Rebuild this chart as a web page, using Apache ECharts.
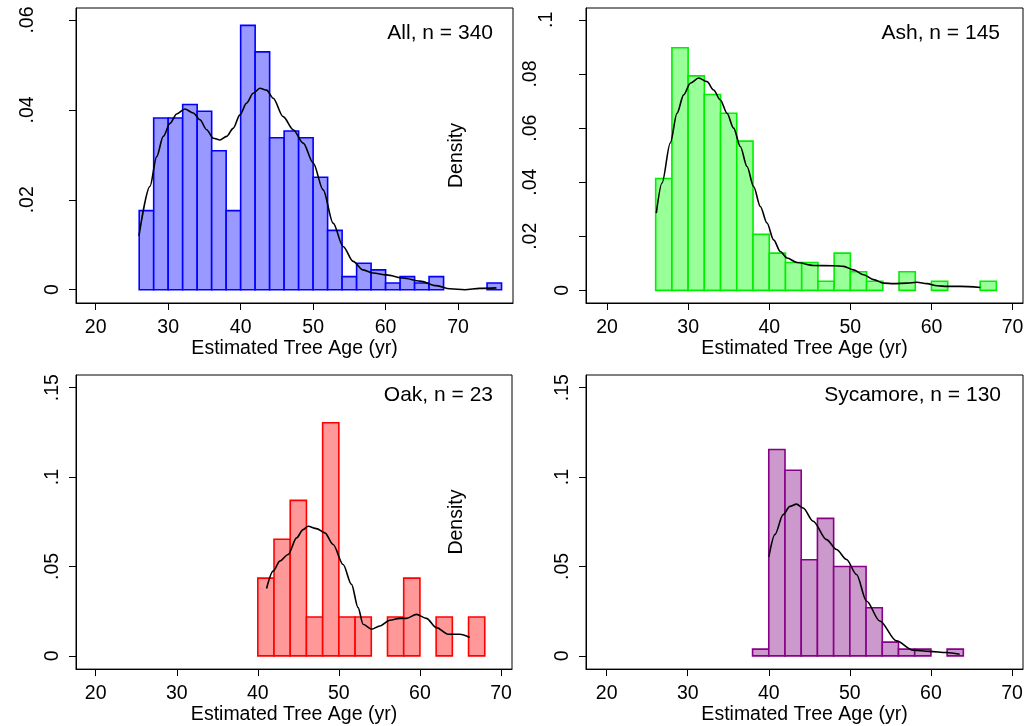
<!DOCTYPE html>
<html><head><meta charset="utf-8">
<script src="https://cdn.jsdelivr.net/npm/echarts@6/dist/echarts.min.js"></script>
<style>html,body{margin:0;padding:0;background:#fff}#c{width:1027px;height:726px}</style>
</head><body><div id="c"></div>
<script>
// ---------- data ----------
const xTicks = [20, 30, 40, 50, 60, 70];
const xAxisTitle = 'Estimated Tree Age (yr)';
const yAxisTitle = 'Density';
const BIN_W = 2;
const panelTitles = ['All, n = 340', 'Ash, n = 145', 'Oak, n = 23', 'Sycamore, n = 130'];

// All species
const allEdges = [26, 28, 30, 32, 34, 36, 38, 40, 42, 44, 46, 48, 50, 52, 54, 56, 58, 60, 62, 64, 66, 68, 70, 72, 74];
const allDens  = [0.0176, 0.0382, 0.0382, 0.0412, 0.0397, 0.0309, 0.0176, 0.0588, 0.0529, 0.0338, 0.0353, 0.0338, 0.0250, 0.0132, 0.0029, 0.0059, 0.0044, 0.0015, 0.0029, 0.0015, 0.0029, 0, 0, 0, 0.0015];
const allKdeAge = [25.97, 27.49, 28.41, 29.32, 30.25, 31.17, 32.31, 33.46, 34.38, 35.31, 36.22, 37.14, 38.06, 38.97, 39.90, 40.82, 41.73, 42.66, 43.58, 44.49, 45.87, 47.25, 48.63, 50.01, 51.38, 52.76, 54.14, 55.52, 56.90, 58.28, 60.12, 62.42, 64.72, 67.02, 68.86, 70.92, 73.0, 75.3];
const allKdeVal = [0.0120, 0.0230, 0.0296, 0.0341, 0.0370, 0.0391, 0.0402, 0.0393, 0.0378, 0.0356, 0.0337, 0.0333, 0.0341, 0.0359, 0.0389, 0.0415, 0.0437, 0.0448, 0.0444, 0.0426, 0.0385, 0.0356, 0.0326, 0.0282, 0.0222, 0.0148, 0.0096, 0.0063, 0.0044, 0.0037, 0.0033, 0.0026, 0.0019, 0.0009, 0.0002, 0.0000, 0.0003, 0.0004];
const yTicksAll = [0, 0.02, 0.04, 0.06];
const yLabelsAll = ['0', '.02', '.04', '.06'];

// Ash
const ashEdges = [26, 28, 30, 32, 34, 36, 38, 40, 42, 44, 46, 48, 50, 52, 54, 56, 58, 60, 62, 64, 66];
const ashDens  = [0.0414, 0.0897, 0.0793, 0.0724, 0.0655, 0.0552, 0.0207, 0.0138, 0.0103, 0.0103, 0.0034, 0.0138, 0.0069, 0.0034, 0, 0.0069, 0, 0.0034, 0, 0, 0.0034];
const ashKdeAge = [26.08, 26.78, 27.80, 28.63, 29.45, 30.27, 31.30, 32.33, 33.14, 33.97, 34.79, 35.61, 36.43, 37.26, 38.07, 38.90, 39.72, 40.54, 41.36, 42.19, 43.42, 45.47, 47.93, 49.17, 50.40, 51.63, 52.87, 54.10, 55.33, 56.98, 58.21, 59.45, 60.68, 61.91, 63.55, 66.02];
const ashKdeVal = [0.0286, 0.0397, 0.0545, 0.0655, 0.0723, 0.0766, 0.0785, 0.0772, 0.0741, 0.0704, 0.0655, 0.0600, 0.0532, 0.0458, 0.0384, 0.0310, 0.0249, 0.0187, 0.0144, 0.0120, 0.0103, 0.0092, 0.0091, 0.0089, 0.0076, 0.0058, 0.0040, 0.0027, 0.0025, 0.0027, 0.0030, 0.0025, 0.0017, 0.0015, 0.0015, 0.0011];
const yTicksAsh = [0, 0.02, 0.04, 0.06, 0.08, 0.1];
const yLabelsAsh = ['0', '.02', '.04', '.06', '.08', '.1'];

// Oak
const oakEdges = [40, 42, 44, 46, 48, 50, 52, 54, 56, 58, 60, 62, 64, 66];
const oakDens  = [0.0435, 0.0652, 0.0870, 0.0217, 0.1304, 0.0217, 0.0217, 0, 0.0217, 0.0435, 0, 0.0217, 0, 0.0217];
const oakKdeAge = [41.08, 41.89, 42.72, 43.74, 44.78, 45.59, 46.21, 47.24, 48.27, 49.29, 50.52, 51.56, 52.37, 52.99, 54.02, 55.05, 56.28, 57.51, 58.34, 59.57, 60.80, 62.04, 63.47, 64.91, 66.14];
const oakKdeVal = [0.0377, 0.0474, 0.0530, 0.0567, 0.0660, 0.0706, 0.0725, 0.0712, 0.0688, 0.0623, 0.0511, 0.0400, 0.0270, 0.0177, 0.0149, 0.0167, 0.0199, 0.0210, 0.0210, 0.0232, 0.0210, 0.0158, 0.0121, 0.0121, 0.0103];

// Sycamore
const sycEdges = [38, 40, 42, 44, 46, 48, 50, 52, 54, 56, 58, 60, 62];
const sycDens  = [0.0038, 0.1154, 0.1038, 0.0538, 0.0769, 0.0500, 0.0500, 0.0269, 0.0077, 0.0038, 0.0038, 0, 0.0038];
const sycKdeAge = [40.01, 40.75, 41.77, 42.60, 43.42, 44.24, 45.47, 47.12, 48.35, 49.59, 50.82, 52.05, 53.69, 55.75, 57.80, 59.85, 61.91, 63.55];
const sycKdeVal = [0.0554, 0.0678, 0.0790, 0.0836, 0.0849, 0.0827, 0.0753, 0.0650, 0.0595, 0.0539, 0.0455, 0.0307, 0.0195, 0.0084, 0.0032, 0.0025, 0.0019, 0.0009];
const yTicksLow = [0, 0.05, 0.1, 0.15];
const yLabelsLow = ['0', '.05', '.1', '.15'];

// ---------- styling / layout ----------
const FONT = "'Liberation Sans', Arial, sans-serif";
const panels = [
  { grid: {left: 76, top: 8, width: 437, height: 295}, x: [17.28, 77.58], y: [-0.00296, 0.06267],
    edges: allEdges, dens: allDens, kA: allKdeAge, kV: allKdeVal, yt: yTicksAll, yl: yLabelsAll, yOff: [0, 25, 25, 25],
    fill: '#9999ff', stroke: '#0000ff', yName: false, title: panelTitles[0], tRight: 534, tTop: 23 },
  { grid: {left: 586, top: 8, width: 437, height: 295}, x: [17.41, 71.28], y: [-0.00465, 0.1044],
    edges: ashEdges, dens: ashDens, kA: ashKdeAge, kV: ashKdeVal, yt: yTicksAsh, yl: yLabelsAsh, yOff: [0, 32, 32, 32, 32, 16],
    fill: '#99ff99', stroke: '#00ee00', yName: true, title: panelTitles[1], tRight: 27, tTop: 23 },
  { grid: {left: 76, top: 375, width: 436, height: 295}, x: [17.57, 71.36], y: [-0.0074, 0.1571],
    edges: oakEdges, dens: oakDens, kA: oakKdeAge, kV: oakKdeVal, yt: yTicksLow, yl: yLabelsLow, yOff: [0, 0, 0, 0],
    fill: '#ff9999', stroke: '#ff0000', yName: false, title: panelTitles[2], tRight: 534, tTop: 385 },
  { grid: {left: 586, top: 375, width: 437, height: 295}, x: [17.45, 71.36], y: [-0.0074, 0.1571],
    edges: sycEdges, dens: sycDens, kA: sycKdeAge, kV: sycKdeVal, yt: yTicksLow, yl: yLabelsLow, yOff: [0, 0, 0, 0],
    fill: '#cc99cc', stroke: '#880088', yName: true, title: panelTitles[3], tRight: 26, tTop: 385 }
];

const grids = [], xAxes = [], yAxes = [], series = [], titles = [];
panels.forEach((p, i) => {
  grids.push(Object.assign({show: true, borderColor: '#000', borderWidth: 1, backgroundColor: '#fff'}, p.grid));
  titles.push({ text: p.title, right: p.tRight, top: p.tTop, padding: 0,
    textStyle: {fontFamily: FONT, fontSize: 21, fontWeight: 'normal', color: '#000'} });
  xAxes.push({ type: 'value', gridIndex: i, min: p.x[0], max: p.x[1],
    name: xAxisTitle, nameLocation: 'middle', nameGap: 34,
    nameTextStyle: {fontFamily: FONT, fontSize: 19.5, color: '#000'},
    splitLine: {show: false},
    axisLine: {show: true, onZero: false, lineStyle: {color: '#000', width: 1}},
    axisTick: {show: true, length: 7, lineStyle: {color: '#000'}, customValues: xTicks},
    axisLabel: {fontFamily: FONT, fontSize: 19.5, color: '#000', margin: 15, customValues: xTicks,
      formatter: v => String(v)} });
  const yt = p.yt, yl = p.yl;
  const rich = {};
  p.yOff.forEach((o, k) => { rich['o' + k] = {fontFamily: FONT, fontSize: 19.5, color: '#000', padding: [0, 0, o, 0]}; });
  yAxes.push({ type: 'value', gridIndex: i, min: p.y[0], max: p.y[1],
    name: p.yName ? yAxisTitle : '', nameLocation: 'middle', nameGap: 119,
    nameTextStyle: {fontFamily: FONT, fontSize: 19.5, color: '#000'},
    splitLine: {show: false},
    axisLine: {show: true, onZero: false, lineStyle: {color: '#000', width: 1}},
    axisTick: {show: true, length: 7, lineStyle: {color: '#000'}, customValues: yt},
    axisLabel: {fontFamily: FONT, fontSize: 19.5, color: '#000', rotate: 90, margin: 13, customValues: yt, rich: rich,
      formatter: v => { const k = yt.findIndex(t => Math.abs(t - v) < 1e-9); return k >= 0 ? '{o' + k + '|' + yl[k] + '}' : ''; }} });
  const fill = p.fill, stroke = p.stroke;
  series.push({ type: 'custom', xAxisIndex: i, yAxisIndex: i,
    encode: {x: [0, 1], y: 2},
    data: p.edges.map((e, k) => [e, e + BIN_W, p.dens[k]]),
    renderItem: (params, api) => {
      const x0 = api.value(0), x1 = api.value(1), y = api.value(2);
      if (!y) return null;
      const a = api.coord([x0, y]), b = api.coord([x1, 0]);
      return { type: 'rect', shape: {x: a[0], y: a[1], width: b[0] - a[0], height: b[1] - a[1]},
        style: {fill: fill, stroke: stroke, lineWidth: 1.6} };
    }, z: 2 });
  series.push({ type: 'line', xAxisIndex: i, yAxisIndex: i, smooth: 0.3, smoothMonotone: 'x',
    showSymbol: false, symbol: 'none', data: p.kA.map((a, k) => [a, p.kV[k]]),
    lineStyle: {color: '#000', width: 1.6}, z: 3 });
});

const chart = echarts.init(document.getElementById('c'), null, {renderer: 'canvas'});
chart.setOption({ animation: false, backgroundColor: '#fff', title: titles,
  grid: grids, xAxis: xAxes, yAxis: yAxes, series: series });
</script></body></html>
